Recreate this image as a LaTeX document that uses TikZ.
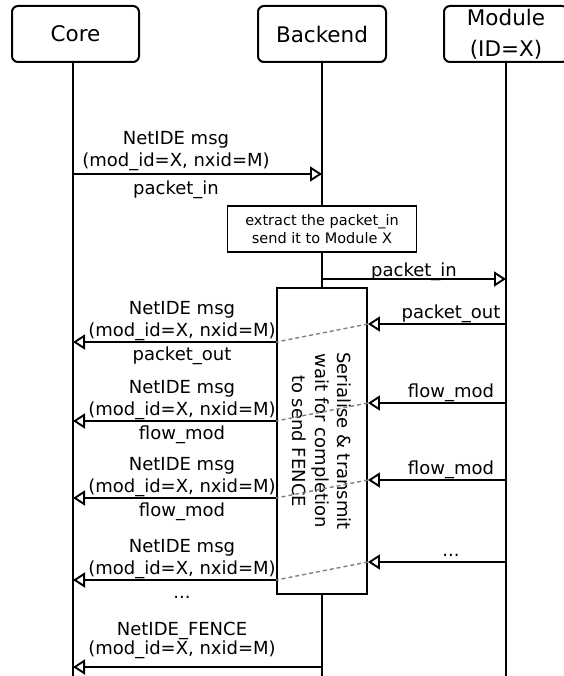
\documentclass[tikz,border=0pt]{standalone}
\usepackage{fontspec}
\setmainfont{DejaVu Sans}
\usetikzlibrary{arrows.meta,positioning,calc}
\definecolor{ink}{HTML}{000000}
\definecolor{wire}{HTML}{808080}
\newcommand{\CoreX}{73}
\newcommand{\BackX}{322}
\newcommand{\ModX}{506}
\newcommand{\HeadY}{34}
\newcommand{\LifeEnd}{676}
\newcommand{\LeftLblX}{182}
\newcommand{\RightLblX}{451}
\newcommand{\FenceY}{667}
\newcommand{\MoreMsgs}{...}

\begin{document}
\begin{tikzpicture}[
    x=1pt, y=-1pt, ink,
    font=\fontsize{18}{22}\selectfont,
    life/.style={line width=2pt, draw=ink},
    msg/.style={-{Triangle[open, length=12pt, width=15pt]}, line width=1.9pt, draw=ink},
    link/.style={draw=wire, line width=1.4pt, dash pattern=on 4pt off 3pt},
    actor/.style={draw=ink, line width=2pt, rounded corners=6pt, minimum height=56pt, inner sep=1pt, align=center, font=\fontsize{21.5}{31}\selectfont},
    taskbox/.style={draw=ink, line width=1.9pt, minimum width=189pt, minimum height=46pt, inner sep=1pt, align=center, font=\fontsize{14.5}{17.7}\selectfont},
    holdbox/.style={draw=ink, line width=1.9pt, minimum width=90pt, minimum height=306pt, inner sep=0pt},
    lbl/.style={inner sep=0pt, anchor=base},
  ]
\useasboundingbox (0,0) rectangle (563,676);

% --- The three parties and their lifelines ----------------------------------
\node[actor, minimum width=127pt] (core) at (75.5, \HeadY) {Core};
\node[actor, minimum width=128pt] (backend) at (\BackX, \HeadY) {Backend};
\node[actor, minimum width=124pt] (module) at (\ModX, \HeadY) {Module\\(ID=X)};

\coordinate (coreEnd) at (\CoreX, \LifeEnd);
\coordinate (backEnd) at (\BackX, \LifeEnd);
\coordinate (modEnd) at (\ModX, \LifeEnd);

\node[taskbox] (extract) at (\BackX, 229) {extract the packet\_in\\send it to Module X};
\node[holdbox] (serial) at (\BackX, 441) {};
\node[rotate=-90, align=center, inner sep=0pt, font=\fontsize{18}{22.5}\selectfont] (serialtxt) at (serial.center)
  {Serialise \& transmit\\wait for completion\\to send FENCE};

\draw[life] (core.south -| coreEnd) -- (coreEnd);
\draw[life] (backend.south) -- (extract.north);
\draw[life] (extract.south) -- (serial.north);
\draw[life] (serial.south) -- (backEnd);
\draw[life] (module.south) -- (modEnd);

% --- The packet_in goes up to the module ------------------------------------
\coordinate (c0) at (\CoreX, 174);
\coordinate (b0) at (\BackX, 174);
\draw[msg] (c0) -- (b0);
\node[lbl] (in0a) at (176, 174-29) {NetIDE msg};
\node[lbl] (in0b) at (176, 174-7) {(mod\_id=X, nxid=M)};
\node[lbl] (in0c) at (176, 174+21) {packet\_in};

\coordinate (b1) at (\BackX, 279);
\coordinate (m1) at (\ModX, 279);
\draw[msg] (b1) -- (m1);
\node[lbl] (in1) at (414, 279-3) {packet\_in};

% --- The replies come back and are passed on to the core --------------------
\foreach \i/\y/\cmd in {1/324/packet\_out, 2/403/flow\_mod, 3/480/flow\_mod, 4/562/\MoreMsgs} {
  \pgfmathsetmacro{\yl}{\y+18}
  \coordinate (r\i) at (\ModX, \y);
  \coordinate (s\i) at (serial.east |- r\i);
  \coordinate (k\i) at (\CoreX, \yl);
  \coordinate (w\i) at (serial.west |- k\i);
  \draw[msg] (r\i) -- (s\i);
  \node[lbl] (rep\i) at (\RightLblX, \y-6) {\cmd};
  \draw[link] (s\i) -- (w\i);
  \draw[msg] (w\i) -- (k\i);
  \node[lbl] (out\i a) at (\LeftLblX, \yl-28) {NetIDE msg};
  \node[lbl] (out\i b) at (\LeftLblX, \yl-6) {(mod\_id=X, nxid=M)};
  \node[lbl] (out\i c) at (\LeftLblX, \yl+18) {\cmd};
}

% --- The fence closes the batch ---------------------------------------------
\coordinate (bF) at (\BackX, \FenceY);
\coordinate (cF) at (\CoreX, \FenceY);
\draw[msg] (bF) -- (cF);
\node[lbl] (fenceA) at (\LeftLblX, \FenceY-32) {NetIDE\_FENCE};
\node[lbl] (fenceB) at (\LeftLblX, \FenceY-13) {(mod\_id=X, nxid=M)};

\end{tikzpicture}
\end{document}
